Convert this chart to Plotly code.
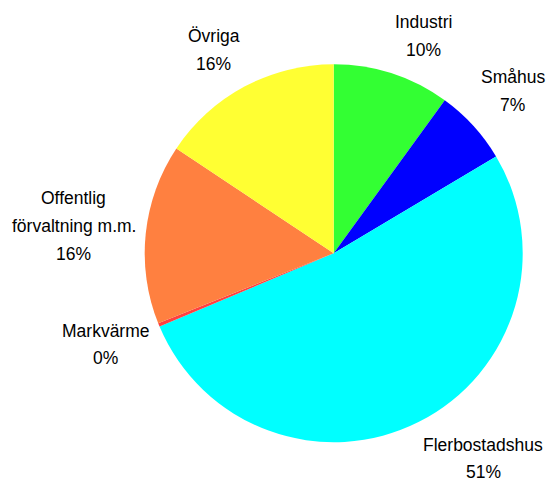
import math
import plotly.graph_objects as go

names = ["Industri", "Småhus", "Flerbostadshus", "Markvärme", "Offentlig<br>förvaltning m.m.", "Övriga"]
values = [10.0, 6.45, 52.2, 0.3, 15.4, 15.65]
pct_text = ["10%", "7%", "51%", "0%", "16%", "16%"]
colors = ["#33FF33", "#0000FF", "#00FFFF", "#FF4040", "#FF8040", "#FFFF33"]

W, H = 547, 483
cx, cy, r = 333.7, 253.2, 189.0
FONT = "Liberation Sans, Arial, sans-serif"
FS = 17.5
LINE = 27.7

# approximate Arial/Liberation Sans advance widths (em/1000) for text layout
ADV = {"I": 278, "n": 556, "d": 556, "u": 556, "s": 500, "t": 278, "r": 333, "i": 222,
       "%": 889, "S": 667, "m": 833, "å": 556, "h": 556, "F": 611, "l": 222, "e": 556,
       "b": 556, "o": 556, "a": 556, "M": 833, "k": 500, "v": 500, "ä": 556, "O": 778,
       "f": 278, "g": 556, "ö": 556, ".": 278, " ": 278, "Ö": 778}


def text_w(s):
    return sum(ADV.get(ch, 556) for ch in s) / 1000 * FS


fig = go.Figure(go.Pie(
    labels=[n.replace("<br>", " ") for n in names],
    values=values,
    sort=False,
    direction="clockwise",
    rotation=0,
    marker=dict(colors=colors, line=dict(width=0)),
    textinfo="none",
    hoverinfo="label+percent",
    showlegend=False,
    domain=dict(x=[(cx - r) / W, (cx + r) / W], y=[1 - (cy + r) / H, 1 - (cy - r) / H]),
))

total = sum(values)
cum = 0.0
annotations = []
pad = 10
for name, v, t in zip(names, values, pct_text):
    mid = (cum + v / 2) / total * 2 * math.pi
    cum += v
    s, c = math.sin(mid), math.cos(mid)
    px = cx + (r + pad) * s
    py = cy - (r + pad) * c
    lines = name.split("<br>") + [t]
    n = len(lines)
    bw = max(text_w(x) for x in lines)
    bh = n * LINE
    bx = px + bw / 2 if s > 0 else px - bw / 2
    k = min(1.0, 1.5 * abs(c))
    by = py - math.copysign(k, c) * bh / 2
    for i, ln in enumerate(lines):
        ly = by + (i - (n - 1) / 2) * LINE
        annotations.append(dict(
            text=ln,
            x=bx / W, y=1 - ly / H,
            xref="paper", yref="paper",
            xanchor="center", yanchor="middle",
            showarrow=False,
            font=dict(family=FONT, size=FS, color="black"),
        ))

fig.update_layout(
    width=W, height=H, autosize=False,
    margin=dict(l=0, r=0, t=0, b=0),
    paper_bgcolor="white", plot_bgcolor="white",
    annotations=annotations,
)

fig.write_html("out.html", config={"displayModeBar": False},
               post_script="document.body.style.margin='0px';")
